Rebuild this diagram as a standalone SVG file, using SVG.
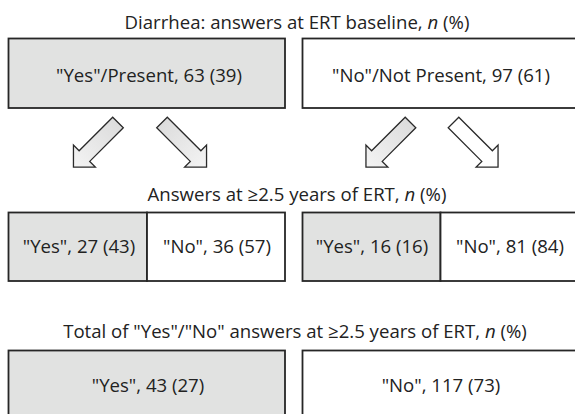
<svg xmlns="http://www.w3.org/2000/svg" width="575" height="414" viewBox="0 0 575 414">
<defs>
<style>
text{font-family:"Open Sans","Noto Sans","DejaVu Sans",sans-serif;font-size:18.6px;fill:#222;text-anchor:middle}
.box{stroke:#262626;stroke-width:1.8}
.yes{fill:#e1e2e1}
.no{fill:#fff}
.arr{stroke:#2a2a2a;stroke-width:1.3;stroke-linejoin:miter}
</style>
<linearGradient id="g1" x1="0" y1="0" x2="1" y2="0">
<stop offset="0" stop-color="#dcdcdc"/>
<stop offset="1" stop-color="#f4f4f4"/>
</linearGradient>
<path id="arrow" d="M0,-7.5 L47.5,-7.5 L47.5,-15.5 L63,0 L47.5,15.5 L47.5,7.5 L0,7.5 Z"/>
</defs>
<rect width="575" height="414" fill="#fff"/>

<g id="title1"><text x="297" y="29">Diarrhea: answers at ERT baseline, <tspan font-style="italic">n</tspan> (%)</text></g>
<g id="base-yes"><rect class="box yes" x="8.5" y="38.5" width="276.5" height="69.5"/><text x="149" y="82">"Yes"/Present, 63 (39)</text></g>
<g id="base-no"><rect class="box no" x="302.5" y="38.5" width="278" height="69.5"/><text x="441" y="82">"No"/Not Present, 97 (61)</text></g>

<g id="connectors">
<use href="#arrow" class="arr" fill="url(#g1)" transform="translate(118,122.5) rotate(135)"/>
<use href="#arrow" class="arr" fill="url(#g1)" transform="translate(162,122.5) rotate(45)"/>
<use href="#arrow" class="arr" fill="url(#g1)" transform="translate(410.5,122.5) rotate(135)"/>
<use href="#arrow" class="arr" fill="#fff" transform="translate(453.5,122.5) rotate(45)"/>
</g>

<g id="title2"><text x="297" y="201">Answers at ≥2.5 years of ERT, <tspan font-style="italic">n</tspan> (%)</text></g>
<g id="yes-yes"><rect class="box yes" x="8.5" y="212.5" width="138.5" height="68.5"/><text x="79" y="253">"Yes", 27 (43)</text></g>
<g id="yes-no"><rect class="box no" x="147" y="212.5" width="138" height="68.5"/><text x="217" y="253">"No", 36 (57)</text></g>
<g id="no-yes"><rect class="box yes" x="302.5" y="212.5" width="138" height="68.5"/><text x="372" y="253">"Yes", 16 (16)</text></g>
<g id="no-no"><rect class="box no" x="440.5" y="212.5" width="140" height="68.5"/><text x="510" y="253">"No", 81 (84)</text></g>

<g id="title3"><text x="295" y="338">Total of "Yes"/"No" answers at ≥2.5 years of ERT, <tspan font-style="italic">n</tspan> (%)</text></g>
<g id="total-yes"><rect class="box yes" x="8.5" y="350.5" width="276.5" height="80"/><text x="148" y="392">"Yes", 43 (27)</text></g>
<g id="total-no"><rect class="box no" x="302.5" y="350.5" width="278" height="80"/><text x="441" y="392">"No", 117 (73)</text></g>
</svg>
